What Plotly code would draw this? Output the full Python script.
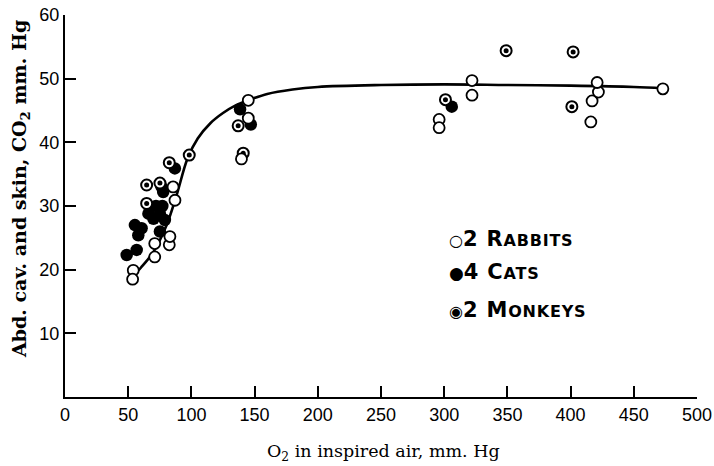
import plotly.graph_objects as go

# ---- data ----
rabbit_x = [54, 53.5, 71, 71, 82.5, 83, 85.5, 87, 145, 145, 139.6,
            296, 296, 322, 322, 416, 417, 422, 421, 473]
rabbit_y = [19.9, 18.5, 22.0, 24.1, 23.9, 25.2, 33.0, 30.9, 46.6, 43.8, 37.4,
            43.6, 42.3, 49.7, 47.4, 43.2, 46.5, 47.9, 49.4, 48.4]

cat_x = [48.8, 56.7, 55.3, 60.6, 58.0, 66.0, 70.0, 72.0, 75.1, 75.1, 77.0, 79.0,
         77.7, 76.4, 86.9, 138.5, 147.0, 306]
cat_y = [22.3, 23.1, 27.0, 26.5, 25.4, 28.8, 28.0, 30.0, 26.0, 28.8, 30.0, 27.8,
         32.2, 33.0, 35.9, 45.2, 42.8, 45.6]

monkey_x = [64.6, 64.6, 75.1, 82.5, 98.3, 137, 141, 301, 349, 402, 401]
monkey_y = [33.3, 30.4, 33.6, 36.8, 38.0, 42.6, 38.3, 46.7, 54.4, 54.2, 45.6]

curve_x = [53, 60, 70, 80, 88, 97, 105, 115, 125, 135, 145, 160, 180, 200,
           250, 300, 350, 400, 450, 473]
curve_y = [18.8, 20.3, 22.8, 26.8, 31.5, 37.5, 40.6, 43.0, 44.6, 45.8, 46.6,
           47.6, 48.3, 48.7, 49.0, 49.1, 49.0, 48.9, 48.7, 48.5]

x_ticks = [0, 50, 100, 150, 200, 250, 300, 350, 400, 450, 500]
y_ticks = [10, 20, 30, 40, 50, 60]

legend_labels = [("\u25CB", "2 R", "ABBITS"),
                 ("\u25CF", "4 C", "ATS"),
                 ("\u25C9", "2 M", "ONKEYS")]

fig = go.Figure()

fig.add_trace(go.Scatter(x=curve_x, y=curve_y, mode="lines",
                         line=dict(color="black", width=2.6, shape="spline", smoothing=1.0),
                         hoverinfo="skip", showlegend=False))

fig.add_trace(go.Scatter(x=cat_x, y=cat_y, mode="markers", name="4 Cats",
                         marker=dict(size=12.5, color="black", line=dict(width=0)),
                         showlegend=False))

fig.add_trace(go.Scatter(x=monkey_x, y=monkey_y, mode="markers", name="2 Monkeys",
                         marker=dict(size=11, color="white", line=dict(width=2, color="black")),
                         showlegend=False))
fig.add_trace(go.Scatter(x=monkey_x, y=monkey_y, mode="markers",
                         marker=dict(size=5, color="black", line=dict(width=0)),
                         hoverinfo="skip", showlegend=False))

fig.add_trace(go.Scatter(x=rabbit_x, y=rabbit_y, mode="markers", name="2 Rabbits",
                         marker=dict(size=11, color="white", line=dict(width=1.8, color="black")),
                         showlegend=False))

# legend as text
leg_y = [0.4136, 0.328, 0.2277]
sym_sizes = [16, 17, 16]
for (sym, big, small), yy, ss in zip(legend_labels, leg_y, sym_sizes):
    fig.add_annotation(
        xref="paper", yref="paper", x=0.6048, y=yy, xanchor="left", yanchor="middle",
        showarrow=False,
        text=(f"<span style='font-size:{ss}px'>{sym}</span>"
              f"<span style='letter-spacing:0.8px'><b>{big}<span style='font-size:16px'>{small}</span></b></span>"),
        font=dict(family="DejaVu Sans", size=21, color="black"))

# axis titles
fig.add_annotation(xref="paper", yref="paper", x=0.504, y=-0.145, xanchor="center", yanchor="middle",
                   showarrow=False, text="O<sub>2</sub> in inspired air, mm. Hg",
                   font=dict(family="DejaVu Serif", size=17.5, color="black"))
fig.add_annotation(xref="paper", yref="paper", x=-0.0712, y=0.5445, xanchor="center", yanchor="middle",
                   showarrow=False, textangle=-90,
                   text="<b>Abd. cav. and skin, CO<sub>2</sub> mm. Hg</b>",
                   font=dict(family="DejaVu Serif", size=19, color="black"))

fig.update_layout(
    width=714, height=466,
    margin=dict(l=65, r=17, t=15, b=69, autoexpand=False),
    paper_bgcolor="white", plot_bgcolor="white",
    showlegend=False,
    font=dict(family="Liberation Sans", size=18, color="black"),
)
fig.update_xaxes(range=[0, 500], tickvals=x_ticks, ticktext=[str(v) for v in x_ticks],
                 showline=True, linecolor="black", linewidth=2, automargin=False,
                 ticks="inside", ticklen=11, tickwidth=2, tickcolor="black",
                 showgrid=False, zeroline=False,
                 tickfont=dict(family="Liberation Sans", size=18, color="black"))
fig.update_yaxes(range=[0, 60], tickvals=y_ticks, ticktext=[str(v) for v in y_ticks],
                 showline=True, linecolor="black", linewidth=2, automargin=False,
                 ticks="inside", ticklen=11, tickwidth=2, tickcolor="black",
                 showgrid=False, zeroline=False,
                 tickfont=dict(family="Liberation Sans", size=18, color="black"))

fig.write_html("out.html", config={"displayModeBar": False},
               post_script="document.body.style.margin='0';document.body.style.overflow='hidden';")
